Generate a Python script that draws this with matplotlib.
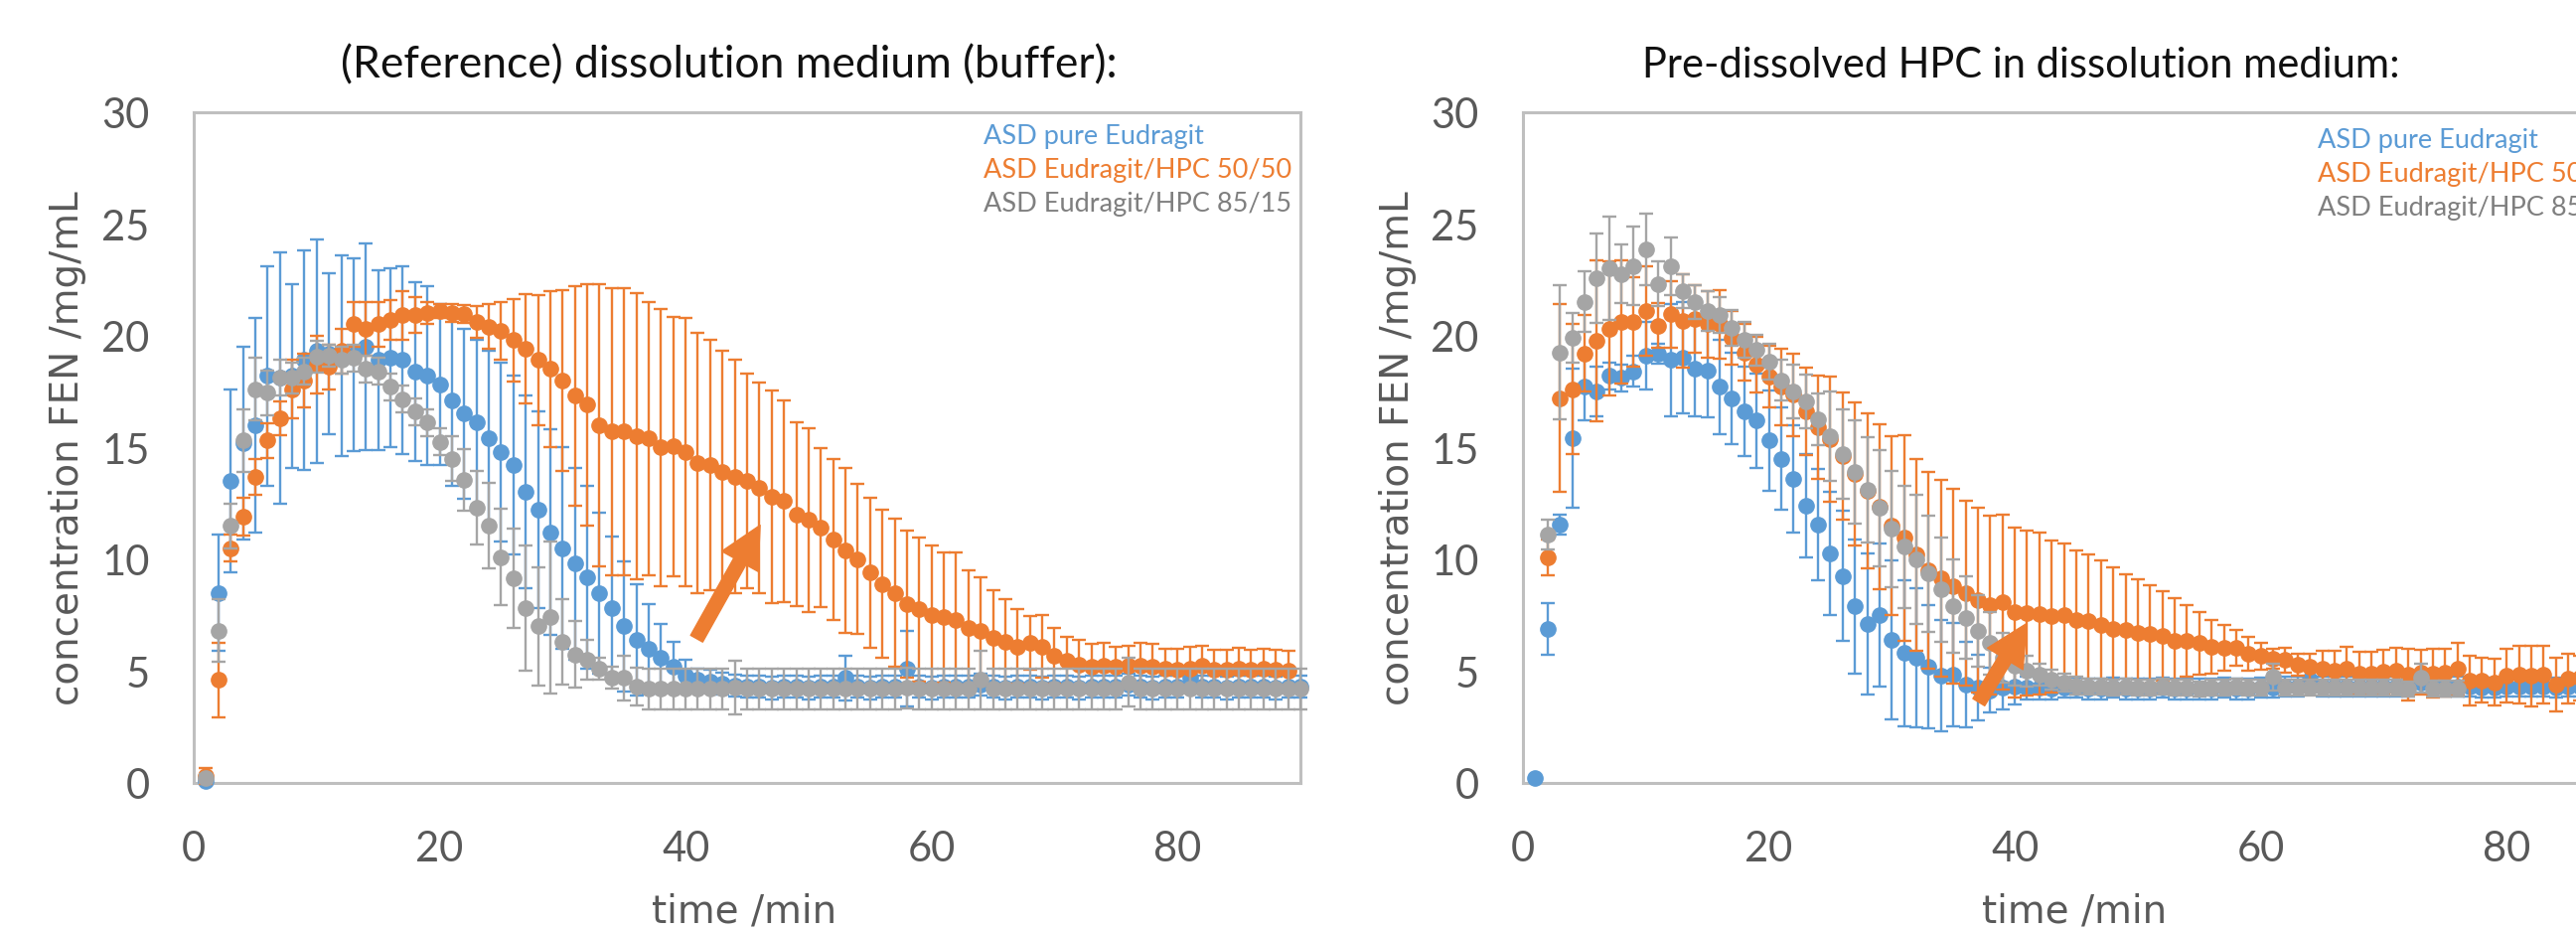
import numpy as np
import matplotlib
matplotlib.use("Agg")
import matplotlib.pyplot as plt
from matplotlib.patches import FancyArrowPatch

# ---------------- data ----------------
nan = np.nan
series_names = ["ASD pure Eudragit", "ASD Eudragit/HPC 50/50", "ASD Eudragit/HPC 85/15"]
series_colors = ["#5B9BD5", "#ED7D31", "#A5A5A5"]
legend_text_colors = ["#5B9BD5", "#ED7D31", "#7F7F7F"]

titles = ["(Reference) dissolution medium (buffer):", "Pre-dissolved HPC in dissolution medium:"]
x_label = "time /min"
y_label = "concentration FEN /mg/mL"
x_ticks = [0, 20, 40, 60, 80]
y_ticks = [0, 5, 10, 15, 20, 25, 30]

# Left panel: reference buffer
left_blue = [0.1, 8.5, 13.5, 15.2, 16.0, 18.2, 18.1, 18.2, 18.9, 19.3,
             19.2, 19.1, 19.15, 19.5, 18.9, 19.0, 18.9, 18.4, 18.2, 17.8,
             17.1, 16.5, 16.1, 15.4, 14.8, 14.2, 13.0, 12.2, 11.2, 10.5,
             9.8, 9.2, 8.5, 7.8, 7.0, 6.4, 6.0, 5.6, 5.2, 4.8,
             4.6, 4.55, 4.45, 4.35, 4.3, 4.3, 4.25, 4.3, 4.3, 4.25,
             4.3, 4.3, 4.7, 4.3, 4.25, 4.3, 4.3, 5.1, 4.3, 4.25,
             4.3, 4.3, 4.3, 4.4, 4.3, 4.25, 4.3, 4.3, 4.25, 4.3,
             4.3, 4.25, 4.3, 4.3, 4.3, 4.4, 4.3, 4.25, 4.3, 4.3,
             4.7, 4.3, 4.3, 4.25, 4.3, 4.3, 4.3, 4.25, 4.3, 4.3]
left_blue_err = [0.1, 2.6, 4.1, 4.3, 4.8, 4.9, 5.6, 4.1, 4.9, 5.0,
                 3.6, 4.5, 4.3, 4.6, 4.0, 4.0, 4.2, 4.0, 4.0, 3.6,
                 3.8, 3.8, 3.7, 3.9, 4.0, 4.0, 4.3, 4.4, 4.6, 4.5,
                 4.3, 4.1, 3.6, 3.2, 2.9, 2.5, 2.0, 1.5, 1.1, 0.7,
                 0.5, 0.5, 0.5, 0.5, 0.5, 0.5, 0.5, 0.5, 0.5, 0.5,
                 0.5, 0.5, 1.0, 0.5, 0.5, 0.5, 0.5, 1.7, 0.5, 0.5,
                 0.5, 0.5, 0.5, 0.5, 0.5, 0.5, 0.5, 0.5, 0.5, 0.5,
                 0.5, 0.5, 0.5, 0.5, 0.5, 0.5, 0.5, 0.5, 0.5, 0.5,
                 0.5, 0.5, 0.5, 0.5, 0.5, 0.5, 0.5, 0.5, 0.5, 0.5]
left_orange = [0.3, 4.6, 10.5, 11.9, 13.7, 15.3, 16.3, 17.6, 18.0, 18.7,
               18.6, 19.3, 20.5, 20.3, 20.5, 20.7, 20.9, 20.9, 21.0, 21.1,
               21.0, 20.95, 20.6, 20.4, 20.2, 19.8, 19.4, 18.9, 18.5, 18.0,
               17.3, 16.9, 16.0, 15.7, 15.7, 15.5, 15.4, 15.0, 15.05, 14.8,
               14.3, 14.2, 13.9, 13.7, 13.5, 13.2, 12.8, 12.6, 12.0, 11.75,
               11.4, 10.9, 10.4, 10.0, 9.4, 8.9, 8.5, 8.0, 7.75, 7.5,
               7.4, 7.3, 6.95, 6.8, 6.5, 6.3, 6.1, 6.25, 6.1, 5.7,
               5.45, 5.3, 5.2, 5.25, 5.2, 5.25, 5.25, 5.2, 5.1, 5.05,
               5.1, 5.25, 5.05, 5.05, 5.1, 5.05, 5.1, 5.05, 5.0]
left_orange_err = [0.35, 1.65, 0.6, 0.85, 0.8, 0.77, 0.77, 1.3, 1.2, 1.3,
                   1.0, 1.0, 1.0, 1.2, 1.0, 0.9, 1.1, 0.8, 0.5, 0.3,
                   0.4, 0.4, 0.7, 1.0, 1.3, 1.85, 2.45, 2.9, 3.5, 4.05,
                   4.9, 5.4, 6.3, 6.4, 6.4, 6.4, 6.1, 6.2, 5.8, 6.0,
                   5.8, 5.6, 5.4, 5.2, 4.8, 4.7, 4.75, 4.5, 4.1, 4.1,
                   3.55, 3.6, 3.7, 3.35, 3.35, 3.3, 3.3, 3.3, 3.2, 3.1,
                   2.9, 3.0, 2.55, 2.4, 2.1, 1.9, 1.65, 1.2, 1.4, 1.25,
                   1.1, 1.1, 1.0, 1.0, 0.9, 0.9, 1.0, 1.0, 0.9, 0.95,
                   1.0, 0.9, 0.9, 0.9, 0.95, 0.9, 0.9, 0.9, 0.9]
left_grey = [0.2, 6.8, 11.5, 15.3, 17.6, 17.45, 18.1, 18.1, 18.4, 19.05,
             19.1, 18.9, 19.0, 18.5, 18.4, 17.7, 17.15, 16.6, 16.1, 15.25,
             14.5, 13.55, 12.3, 11.5, 10.1, 9.15, 7.8, 7.0, 7.4, 6.3,
             5.75, 5.5, 5.1, 4.7, 4.7, 4.3, 4.2, 4.2, 4.2, 4.2,
             4.2, 4.2, 4.2, 4.25, 4.2, 4.2, 4.2, 4.2, 4.2, 4.2,
             4.2, 4.2, 4.2, 4.2, 4.2, 4.2, 4.2, 4.25, 4.2, 4.2,
             4.2, 4.2, 4.2, 4.6, 4.2, 4.2, 4.2, 4.2, 4.2, 4.2,
             4.2, 4.2, 4.2, 4.2, 4.2, 4.5, 4.2, 4.2, 4.2, 4.2,
             4.2, 4.2, 4.2, 4.2, 4.2, 4.2, 4.2, 4.2, 4.2, 4.2]
left_grey_err = [0.2, 1.4, 1.0, 1.4, 1.4, 1.0, 0.8, 0.7, 0.6, 0.7,
                 0.5, 0.6, 0.6, 0.6, 0.6, 0.6, 0.6, 0.6, 0.6, 0.6,
                 1.0, 1.36, 1.65, 1.9, 2.15, 2.2, 2.8, 2.64, 3.4, 1.9,
                 1.5, 0.9, 0.5, 0.5, 1.0, 0.85, 0.9, 0.9, 0.9, 0.9,
                 0.9, 0.9, 0.9, 1.2, 0.9, 0.9, 0.9, 0.9, 0.9, 0.9,
                 0.9, 0.9, 0.9, 0.9, 0.9, 0.9, 0.9, 0.9, 0.9, 0.9,
                 0.9, 0.9, 0.9, 1.3, 0.9, 0.9, 0.9, 0.9, 0.9, 0.9,
                 0.9, 0.9, 0.9, 0.9, 0.9, 1.1, 0.9, 0.9, 0.9, 0.9,
                 0.9, 0.9, 0.9, 0.9, 0.9, 0.9, 0.9, 0.9, 0.9, 0.9]

# Right panel: pre-dissolved HPC
right_blue = [0.2, 6.9, 11.55, 15.4, 17.7, 17.5, 18.2, 18.1, 18.4, 19.1,
              19.2, 18.9, 19.0, 18.5, 18.45, 17.7, 17.2, 16.6, 16.2, 15.3,
              14.5, 13.6, 12.4, 11.55, 10.25, 9.25, 7.9, 7.1, 7.5, 6.4,
              5.8, 5.6, 5.2, 4.8, 4.85, 4.4, 4.27, 4.15, 4.27, 4.3,
              4.25, 4.25, 4.2, 4.25, 4.25, 4.2, 4.2, 4.25, 4.2, 4.2,
              4.2, 4.25, 4.2, 4.2, 4.2, 4.2, 4.25, 4.2, 4.2, 4.25,
              4.25, 4.3, 4.3, 4.6, 4.3, 4.3, 4.3, 4.3, 4.3, 4.3,
              4.3, 4.3, 4.5, 4.3, 4.3, 4.3, 4.3, 4.25, 4.25, 4.3,
              4.3, 4.3, 4.3, 4.25, 4.3, 4.3]
right_blue_err = [0.0, 1.16, 0.45, 3.1, 1.5, 1.13, 0.6, 0.6, 0.7, 1.5,
                  0.45, 2.5, 2.5, 2.1, 2.1, 2.1, 2.05, 2.0, 2.1, 2.25,
                  2.3, 2.4, 2.3, 2.5, 2.75, 2.9, 3.0, 3.15, 3.2, 3.57,
                  3.25, 3.1, 2.76, 2.5, 2.3, 1.9, 1.45, 1.0, 1.0, 0.8,
                  0.5, 0.5, 0.45, 0.45, 0.45, 0.45, 0.45, 0.45, 0.45, 0.45,
                  0.45, 0.45, 0.45, 0.45, 0.45, 0.45, 0.45, 0.45, 0.45, 0.45,
                  0.45, 0.45, 0.45, 0.5, 0.45, 0.45, 0.45, 0.45, 0.45, 0.45,
                  0.45, 0.45, 0.5, 0.45, 0.45, 0.45, 0.45, 0.45, 0.45, 0.45,
                  0.45, 0.45, 0.45, 0.45, 0.45, 0.45]
right_orange = [nan, 10.1, 17.2, 17.6, 19.2, 19.75, 20.3, 20.6, 20.6, 21.1,
                20.45, 20.95, 20.65, 20.75, 20.5, 20.5, 19.9, 19.25, 18.7, 18.15,
                17.7, 17.35, 16.6, 15.9, 15.35, 14.6, 13.8, 13.05, 12.35, 11.5,
                10.95, 10.2, 9.5, 9.15, 8.8, 8.5, 8.15, 7.95, 8.08, 7.62,
                7.6, 7.57, 7.45, 7.5, 7.3, 7.22, 7.04, 6.87, 6.83, 6.69,
                6.64, 6.57, 6.34, 6.34, 6.25, 6.08, 6.04, 6.04, 5.78, 5.67,
                5.55, 5.49, 5.28, 5.2, 5.11, 5.02, 5.11, 4.9, 4.9, 4.96,
                5.02, 4.84, 4.95, 4.9, 4.93, 5.11, 4.58, 4.58, 4.5, 4.79,
                4.85, 4.79, 4.85, 4.4, 4.67, 4.7]
right_orange_err = [0.0, 0.8, 4.2, 2.9, 1.7, 3.6, 3.0, 2.75, 2.0, 2.0,
                    1.0, 1.5, 2.07, 1.5, 1.5, 1.55, 1.2, 1.27, 1.25, 1.37,
                    1.7, 1.85, 1.95, 2.3, 2.8, 2.85, 3.2, 3.45, 3.7, 4.0,
                    4.6, 4.3, 4.4, 4.4, 4.34, 4.13, 4.13, 4.0, 3.9, 3.8,
                    3.67, 3.6, 3.4, 3.2, 3.1, 3.0, 2.9, 2.75, 2.5, 2.4,
                    2.2, 2.0, 1.9, 1.6, 1.4, 1.2, 1.0, 0.8, 0.75, 0.6,
                    0.45, 0.55, 0.5, 0.56, 0.8, 0.9, 0.97, 0.95, 0.95, 1.0,
                    1.0, 1.15, 1.0, 1.1, 1.05, 1.15, 1.1, 1.0, 1.05, 1.2,
                    1.3, 1.35, 1.3, 1.2, 1.1, 1.0]
right_grey = [nan, 11.1, 19.25, 19.9, 21.5, 22.55, 23.0, 22.75, 23.1, 23.85,
              22.3, 23.1, 22.0, 21.5, 21.1, 20.9, 20.35, 19.8, 19.35, 18.85,
              18.0, 17.5, 17.05, 16.25, 15.5, 14.7, 13.9, 13.1, 12.3, 11.35,
              10.55, 10.0, 9.35, 8.65, 7.9, 7.38, 6.8, 6.25, 5.6, 5.25,
              5.0, 4.85, 4.62, 4.5, 4.37, 4.3, 4.3, 4.25, 4.3, 4.25,
              4.25, 4.3, 4.25, 4.25, 4.2, 4.25, 4.25, 4.3, 4.25, 4.25,
              4.75, 4.25, 4.25, 4.25, 4.25, 4.25, 4.25, 4.25, 4.25, 4.25,
              4.25, 4.2, 4.7, 4.23, 4.23, 4.23]
right_grey_err = [0.0, 0.67, 3.0, 1.1, 1.35, 2.0, 2.3, 1.3, 1.75, 1.6,
                  1.0, 1.3, 0.75, 0.75, 0.9, 0.8, 0.8, 0.8, 0.7, 0.8,
                  0.9, 1.2, 1.2, 1.15, 2.0, 2.0, 2.33, 2.37, 2.6, 2.6,
                  2.75, 2.9, 2.6, 2.34, 2.1, 1.85, 1.6, 1.4, 1.1, 0.9,
                  0.7, 0.5, 0.45, 0.4, 0.4, 0.35, 0.35, 0.35, 0.35, 0.35,
                  0.35, 0.35, 0.35, 0.35, 0.35, 0.35, 0.35, 0.35, 0.35, 0.35,
                  0.6, 0.35, 0.35, 0.35, 0.35, 0.35, 0.35, 0.35, 0.35, 0.35,
                  0.35, 0.35, 0.65, 0.35, 0.35, 0.35]

# arrows (tail -> tip) in data coordinates
left_arrow = [(40.9, 6.45), (46.06, 11.52)]
right_arrow = [(37.07, 3.61), (40.97, 7.13)]

# ---------------- figure ----------------
W, H = 2593, 937
fig = plt.figure(figsize=(W / 100, H / 100), dpi=100)
fig.patch.set_facecolor("white")


def fx(px):
    return px / W


def fy(py):
    return 1 - py / H


ax_w = (1309 - 195) / W
ax_h = (789 - 113.5) / H
ax_l = fig.add_axes([fx(195), fy(789), ax_w, ax_h])
ax_r = fig.add_axes([fx(1533), fy(789), ax_w, ax_h])

TICK_FONT = "Lato"
LABEL_FONT = "DejaVu Sans"
TEXT_FONT = "Lato"


def draw_panel(ax, data):
    for i, (vals, errs) in enumerate(data):
        t = np.arange(1, len(vals) + 1)
        c = series_colors[i]
        cont = ax.errorbar(t, vals, yerr=errs, fmt="o", color=c, ms=11,
                           mec=c, mfc=c, ecolor=c, elinewidth=1.7,
                           capsize=4.8, capthick=1.7, zorder=3 + i)
        for art in cont.get_children():
            art.set_clip_on(False)
    ax.set_xlim(0, 90)
    ax.set_ylim(0, 30)
    ax.set_xticks(x_ticks)
    ax.set_yticks(y_ticks)
    for s in ax.spines.values():
        s.set_color("#BFBFBF")
        s.set_linewidth(2.2)
    ax.tick_params(axis="both", length=0, labelsize=30, labelcolor="#595959")
    ax.tick_params(axis="y", pad=32)
    ax.tick_params(axis="x", pad=34)
    for lab in ax.get_xticklabels() + ax.get_yticklabels():
        lab.set_fontfamily(TICK_FONT)
        lab.set_fontweight("normal")


draw_panel(ax_l, [(left_blue, left_blue_err), (left_orange, left_orange_err),
                  (left_grey, left_grey_err)])
draw_panel(ax_r, [(right_blue, right_blue_err), (right_orange, right_orange_err),
                  (right_grey, right_grey_err)])

for ax, arr in [(ax_l, left_arrow), (ax_r, right_arrow)]:
    a = FancyArrowPatch(arr[0], arr[1],
                        arrowstyle="simple,head_length=1.5,head_width=1.5,tail_width=0.5",
                        mutation_scale=20, color="#ED7D31", shrinkA=0, shrinkB=0,
                        zorder=10)
    ax.add_patch(a)

# titles
fig.text(fx(734), fy(78), titles[0], ha="center", va="baseline", fontsize=32,
         fontfamily=TEXT_FONT, color="#111111")
fig.text(fx(2034), fy(78), titles[1], ha="center", va="baseline", fontsize=30,
         fontfamily=TEXT_FONT, color="#111111")

# axis labels
for xc in (68, 1407):
    fig.text(fx(xc), fy(451), y_label, rotation=90, ha="center", va="center",
             fontsize=28, fontfamily=LABEL_FONT, color="#595959")
for xc in (749, 2088):
    fig.text(fx(xc), fy(918), x_label, ha="center", va="center",
             fontsize=28, fontfamily=LABEL_FONT, color="#595959")

# legends (text only)
for x0, ys in [(990, (137, 171, 206)), (2333, (141, 175, 210))]:
    for name, col, yy in zip(series_names, legend_text_colors, ys):
        fig.text(fx(x0), fy(yy), name, ha="left", va="center", fontsize=19.5,
                 fontfamily=TEXT_FONT, color=col)

fig.savefig("out.png", dpi=100, facecolor="white")
